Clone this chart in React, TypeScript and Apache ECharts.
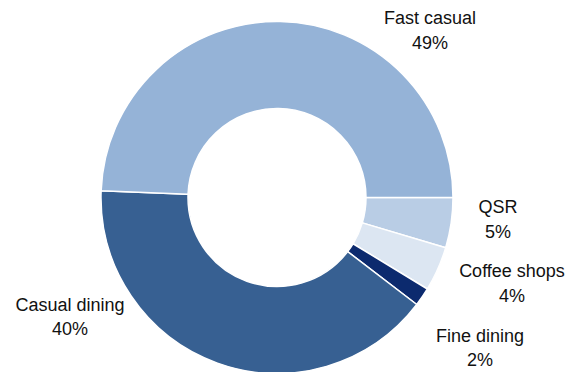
import React, { useEffect, useRef } from "react";
import * as echarts from "echarts";

// Segments in clockwise order starting at 3 o'clock
const categories = ["QSR", "Coffee shops", "Fine dining", "Casual dining", "Fast casual"];
const shares = [4.6, 4.1, 1.7, 40.2, 49.4];
const colors = ["#b9cde5", "#dce6f2", "#0c2a6e", "#376092", "#95b3d7"];

// label anchor (centre of the two-line text block), in px
const labelPos: Record<string, [number, number]> = {
  "QSR": [498, 219.5],
  "Coffee shops": [512, 283.5],
  "Fine dining": [480, 348],
  "Casual dining": [70, 317],
  "Fast casual": [430, 30.5],
};

export default function App() {
  const ref = useRef<HTMLDivElement>(null);
  useEffect(() => {
    if (!ref.current) return;
    const chart = echarts.init(ref.current, undefined, { renderer: "svg" });
    chart.setOption({
      animation: false,
      backgroundColor: "#ffffff",
      series: [
        {
          type: "pie",
          center: [277, 197.5],
          radius: [89, 176],
          startAngle: 0,
          clockwise: true,
          avoidLabelOverlap: false,
          itemStyle: { borderColor: "#ffffff", borderWidth: 1.5 },
          label: {
            show: true,
            position: "outside",
            formatter: (p: any) => `${p.name}\n${Math.round(p.value)}%`,
            fontFamily: "'Liberation Sans', Arial, sans-serif",
            fontSize: 18,
            lineHeight: 24.5,
            color: "#111111",
            align: "center",
          },
          labelLine: { show: false },
          labelLayout: (params: any) => {
            const name = categories[params.dataIndex];
            const pos = labelPos[name];
            return { x: pos[0], y: pos[1], align: "center", verticalAlign: "middle" };
          },
          emphasis: { disabled: true },
          data: categories.map((c, i) => ({
            name: c,
            value: shares[i],
            itemStyle: { color: colors[i] },
          })),
        },
      ],
    });
    return () => chart.dispose();
  }, []);
  return (
    <div
      ref={ref}
      style={{ position: "fixed", left: 0, top: 0, width: 567, height: 372 }}
    />
  );
}
